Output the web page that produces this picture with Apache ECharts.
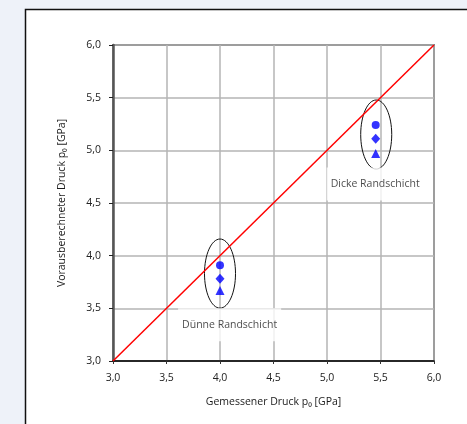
<!DOCTYPE html>
<html><head><meta charset="utf-8">
<script src="https://cdn.jsdelivr.net/npm/echarts@6/dist/echarts.min.js"></script>
<style>html,body{margin:0;padding:0;background:#eef2f9;}#c{width:467px;height:424px;}</style>
</head><body><div id="c"></div>
<script>
// data
var xTicks = ['3,0','3,5','4,0','4,5','5,0','5,5','6,0'];
var circlePts = [[4.0, 3.91], [5.455, 5.24]];
var diamondPts = [[4.0, 3.78], [5.455, 5.11]];
var trianglePts = [[4.0, 3.67], [5.455, 4.97]];
var refLine = [[3.0, 3.0], [6.0, 6.0]];
// ellipse groups: [cx, cy, rx, ry] in data units
var groupEllipses = [[4.0, 3.83, 0.145, 0.328], [5.46, 5.15, 0.145, 0.328]];
var groupLabels = [[4.09, 3.345, 'Dünne Randschicht'], [5.45, 4.68, 'Dicke Randschicht']];

var FONT = 'Open Sans';
var chart = echarts.init(document.getElementById('c'), null, {renderer: 'canvas'});
function fmt(v){ return v.toFixed(1).replace('.', ','); }
chart.setOption({
  backgroundColor: '#eef2f9',
  animation: false,
  graphic: [{
    type: 'rect', z: -10, silent: true,
    shape: {x: 25.5, y: 9.5, width: 460, height: 430},
    style: {fill: '#ffffff', stroke: '#111', lineWidth: 1.5}
  }],
  grid: {left: 113, right: 33, top: 45, bottom: 63, show: true, borderColor: '#222', borderWidth: 1.5, backgroundColor: 'transparent'},
  xAxis: {
    type: 'value', min: 3, max: 6, interval: 0.5,
    name: 'Gemessener Druck p\u2080 [GPa]', nameLocation: 'middle', nameGap: 36,
    nameTextStyle: {fontFamily: FONT, fontSize: 10.5, color: '#1a1a1a'},
    axisLine: {show: true, lineStyle: {color: '#000', width: 1.5}},
    axisTick: {show: true, length: 3, lineStyle: {color: '#333', width: 1}},
    axisLabel: {formatter: fmt, fontFamily: FONT, fontSize: 10.5, color: '#222', margin: 12},
    splitLine: {show: true, lineStyle: {color: '#b4b4b4', width: 1.5}}
  },
  yAxis: {
    type: 'value', min: 3, max: 6, interval: 0.5,
    name: 'Vorausberechneter Druck p\u2080 [GPa]', nameLocation: 'middle', nameGap: 45,
    nameTextStyle: {fontFamily: FONT, fontSize: 10.5, color: '#1a1a1a'},
    axisLine: {show: true, lineStyle: {color: '#555', width: 2.5}},
    axisTick: {show: true, length: 4, lineStyle: {color: '#222', width: 1}},
    axisLabel: {formatter: fmt, fontFamily: FONT, fontSize: 10.5, color: '#222', margin: 12},
    splitLine: {show: true, lineStyle: {color: '#b4b4b4', width: 1.5}}
  },
  series: [
    {
      type: 'custom', z: 3, silent: true,
      data: groupEllipses,
      renderItem: function(params, api){
        var c = api.coord([api.value(0), api.value(1)]);
        var s = api.size([api.value(2), api.value(3)]);
        return {type: 'ellipse', shape: {cx: c[0], cy: c[1], rx: s[0], ry: s[1]},
          style: {fill: 'none', stroke: '#111', lineWidth: 1}};
      }
    },
    {type: 'line', data: refLine, symbol: 'none', z: 4, lineStyle: {color: '#ff0000', width: 1.5}},
    {type: 'scatter', data: circlePts, symbol: 'circle', symbolSize: 8, z: 5, itemStyle: {color: '#0000ff'}},
    {type: 'scatter', data: diamondPts, symbol: 'diamond', symbolSize: [9, 10], z: 5, itemStyle: {color: '#0000ff'}},
    {type: 'scatter', data: trianglePts, symbol: 'triangle', symbolSize: [9, 9], z: 5, itemStyle: {color: '#0000ff'}},
    {
      type: 'scatter', z: 6, symbolSize: 0, silent: true,
      data: groupLabels.map(function(d){ return {value: [d[0], d[1]], name: d[2]}; }),
      label: {show: true, position: 'inside', formatter: '{b}', fontFamily: FONT, fontSize: 10.5, color: '#1a1a1a',
        backgroundColor: '#ffffff', padding: [11, 4]}
    }
  ]
});
</script></body></html>
